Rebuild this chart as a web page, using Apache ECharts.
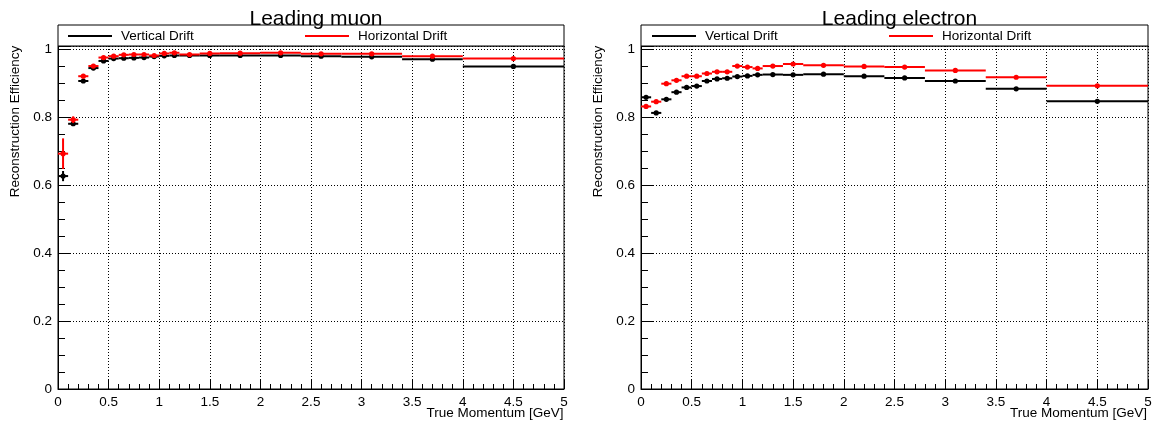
<!DOCTYPE html>
<html>
<head>
<meta charset="utf-8">
<script src="https://cdn.jsdelivr.net/npm/echarts@6/dist/echarts.min.js"></script>
<style>
  html, body { margin: 0; padding: 0; background: #fff; }
  #chart { width: 1156px; height: 425px; }
</style>
</head>
<body>
<div id="chart"></div>
<script>
// ---- data ----
const binEdges = [0, 0.1, 0.2, 0.3, 0.4, 0.5, 0.6, 0.7, 0.8, 0.9, 1.0, 1.1, 1.2, 1.4, 1.6, 2.0, 2.4, 2.8, 3.4, 4.0, 5.0];

const muonVertical = [0.627, 0.781, 0.907, 0.945, 0.966, 0.973, 0.974, 0.975, 0.976, 0.979, 0.981, 0.982, 0.982, 0.982, 0.982, 0.982, 0.980, 0.978, 0.971, 0.950];
const muonVerticalErr = [0.015, 0.006, 0.005, 0.004, 0.003, 0.003, 0.003, 0.003, 0.003, 0.003, 0.003, 0.003, 0.003, 0.003, 0.003, 0.003, 0.003, 0.003, 0.003, 0.004];
const muonHorizontal = [0.693, 0.793, 0.921, 0.951, 0.976, 0.980, 0.984, 0.985, 0.985, 0.982, 0.988, 0.990, 0.985, 0.988, 0.989, 0.990, 0.987, 0.987, 0.980, 0.973];
const muonHorizontalErr = [0.045, 0.010, 0.006, 0.005, 0.004, 0.003, 0.003, 0.003, 0.003, 0.003, 0.003, 0.003, 0.003, 0.003, 0.003, 0.003, 0.003, 0.003, 0.003, 0.003];

const electronVertical = [0.859, 0.813, 0.853, 0.874, 0.888, 0.892, 0.907, 0.913, 0.915, 0.920, 0.922, 0.925, 0.926, 0.925, 0.927, 0.921, 0.916, 0.907, 0.884, 0.847];
const electronVerticalErr = [0.005, 0.005, 0.004, 0.004, 0.004, 0.004, 0.003, 0.003, 0.003, 0.003, 0.003, 0.003, 0.003, 0.003, 0.003, 0.003, 0.003, 0.003, 0.003, 0.003];
const electronHorizontal = [0.832, 0.846, 0.899, 0.909, 0.921, 0.921, 0.929, 0.934, 0.934, 0.951, 0.948, 0.944, 0.951, 0.957, 0.953, 0.950, 0.948, 0.938, 0.918, 0.893];
const electronHorizontalErr = [0.006, 0.005, 0.004, 0.004, 0.004, 0.004, 0.003, 0.003, 0.003, 0.003, 0.003, 0.003, 0.003, 0.003, 0.003, 0.003, 0.003, 0.003, 0.003, 0.003];

const panelTitles = ['Leading muon', 'Leading electron'];
const seriesNames = ['Vertical Drift', 'Horizontal Drift'];
const xAxisTitle = 'True Momentum [GeV]';
const yAxisTitle = 'Reconstruction Efficiency';

// ---- helpers ----
const FONT = '"Liberation Sans", Arial, Helvetica, sans-serif';
function toBins(vals, errs) {
  return vals.map((v, i) => [binEdges[i], binEdges[i + 1], v, errs[i]]);
}
function renderBin(params, api) {
  const lo = api.value(0), hi = api.value(1), v = api.value(2), e = api.value(3);
  const c = (lo + hi) / 2;
  const pLo = api.coord([lo, v]);
  const pHi = api.coord([hi, v]);
  const pMid = api.coord([c, v]);
  const pTop = api.coord([c, v + e]);
  const pBot = api.coord([c, v - e]);
  const color = api.visual('color');
  return {
    type: 'group',
    children: [
      { type: 'line', shape: { x1: pLo[0], y1: pLo[1], x2: pHi[0], y2: pHi[1] }, style: { stroke: color, lineWidth: 2 } },
      { type: 'line', shape: { x1: pTop[0], y1: pTop[1], x2: pBot[0], y2: pBot[1] }, style: { stroke: color, lineWidth: 2 } },
      { type: 'circle', shape: { cx: pMid[0], cy: pMid[1], r: 2.6 }, style: { fill: color } }
    ]
  };
}
function binSeries(name, color, idx, vals, errs) {
  return {
    name: name,
    type: 'custom',
    xAxisIndex: idx,
    yAxisIndex: idx,
    renderItem: renderBin,
    itemStyle: { color: color },
    encode: { x: [0, 1], y: 2 },
    data: toBins(vals, errs),
    clip: true,
    z: 5
  };
}

const grids = [
  { left: 58, top: 46, width: 506, height: 343 },
  { left: 641, top: 46, width: 507, height: 343 }
];

function xAxisFor(i) {
  return {
    type: 'value', gridIndex: i, min: 0, max: 5, interval: 0.5,
    name: xAxisTitle, nameLocation: 'middle', nameGap: 17, nameMoveOverlap: false,
    nameTextStyle: { fontFamily: FONT, fontSize: 13.5, color: '#000', padding: [0, 0, 0, 368] },
    axisLine: { show: true, onZero: false, lineStyle: { color: '#000', width: 1 } },
    axisTick: { show: true, inside: true, length: 10, lineStyle: { color: '#000' } },
    minorTick: { show: true, splitNumber: 5, length: 5, lineStyle: { color: '#000' } },
    axisLabel: { fontFamily: FONT, fontSize: 13.5, color: '#000', margin: 6,
      formatter: v => (Math.abs(v * 2 - Math.round(v * 2)) < 1e-6 ? String(+v.toFixed(1)) : '') },
    splitLine: { show: true, lineStyle: { color: '#000', width: 1, type: [1, 2] } }
  };
}
function yAxisFor(i) {
  return {
    type: 'value', gridIndex: i, min: 0, max: 1.01, interval: 0.2,
    name: yAxisTitle, nameLocation: 'middle', nameRotate: 90, nameGap: 36, nameMoveOverlap: false,
    nameTextStyle: { fontFamily: FONT, fontSize: 13.5, color: '#000', padding: [0, 0, 0, 192] },
    axisLine: { show: true, onZero: false, lineStyle: { color: '#000', width: 1 } },
    axisTick: { show: true, inside: true, length: 13, lineStyle: { color: '#000' } },
    minorTick: { show: true, splitNumber: 4, length: 7, lineStyle: { color: '#000' } },
    axisLabel: { fontFamily: FONT, fontSize: 13.5, color: '#000', margin: 6,
      formatter: v => (v > 1.001 ? '' : String(+v.toFixed(1))) },
    splitLine: { show: true, lineStyle: { color: '#000', width: 1, type: [1, 2] } }
  };
}

function legendFor(name, left) {
  return {
    data: [name], left: left, top: 24, icon: 'rect', itemWidth: 44, itemHeight: 2,
    selectedMode: false,
    textStyle: { fontFamily: FONT, fontSize: 13.5, color: '#000', padding: [0, 0, 0, 4] }
  };
}

const option = {
  backgroundColor: '#fff',
  animation: false,
  title: [
    { text: panelTitles[0], left: 311, top: 4, textAlign: 'center',
      textStyle: { fontFamily: FONT, fontSize: 21, fontWeight: 'normal', color: '#000' } },
    { text: panelTitles[1], left: 894.5, top: 4, textAlign: 'center',
      textStyle: { fontFamily: FONT, fontSize: 21, fontWeight: 'normal', color: '#000' } }
  ],
  graphic: [
    { type: 'rect', shape: { x: 58, y: 25, width: 506, height: 21 }, style: { fill: '#fff', stroke: '#000', lineWidth: 1 }, z: 1 },
    { type: 'rect', shape: { x: 641, y: 25, width: 507, height: 21 }, style: { fill: '#fff', stroke: '#000', lineWidth: 1 }, z: 1 }
  ],
  legend: [
    legendFor(seriesNames[0], 63),
    legendFor(seriesNames[1], 300),
    legendFor(seriesNames[0], 647),
    legendFor(seriesNames[1], 884)
  ],
  grid: grids.map(g => Object.assign({ show: true, borderColor: '#000', borderWidth: 1, backgroundColor: 'transparent', containLabel: false, outerBoundsMode: 'none' }, g)),
  xAxis: [xAxisFor(0), xAxisFor(1)],
  yAxis: [yAxisFor(0), yAxisFor(1)],
  series: [
    binSeries(seriesNames[0], '#000000', 0, muonVertical, muonVerticalErr),
    binSeries(seriesNames[1], '#ff0000', 0, muonHorizontal, muonHorizontalErr),
    binSeries(seriesNames[0], '#000000', 1, electronVertical, electronVerticalErr),
    binSeries(seriesNames[1], '#ff0000', 1, electronHorizontal, electronHorizontalErr)
  ]
};

const chart = echarts.init(document.getElementById('chart'), null, { renderer: 'canvas' });
chart.setOption(option);
</script>
</body>
</html>
